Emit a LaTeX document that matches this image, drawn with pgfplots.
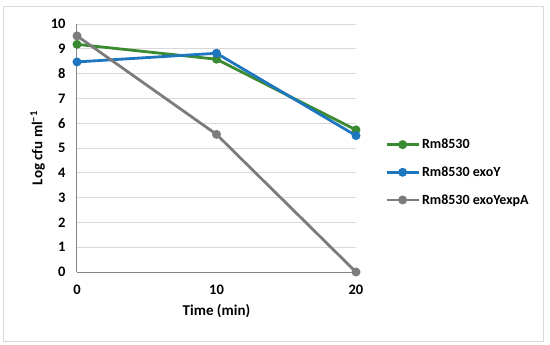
\documentclass[border=0pt]{standalone}
\usepackage{fontspec}
\setmainfont{Carlito}
\usepackage{pgfplots}
\pgfplotsset{compat=1.18}
\definecolor{cgreen}{RGB}{58,138,50}
\definecolor{cblue}{RGB}{30,118,190}
\definecolor{cgrey}{RGB}{124,124,124}
\definecolor{cgrid}{RGB}{217,217,217}
\definecolor{caxis}{RGB}{134,134,134}
\begin{document}
\begin{tikzpicture}
\path (0pt,0pt) rectangle (550pt,-345pt);
\draw[cgrid, line width=0.8pt] (3pt,-6pt) rectangle (543pt,-341pt);
\begin{axis}[
  at={(77pt,-272pt)}, anchor=south west,
  scale only axis, width=279pt, height=248pt,
  xmin=0, xmax=20, ymin=0, ymax=10,
  xtick={0,10,20}, minor xtick={5,15},
  ytick={0,1,...,10},
  axis y line*=left, axis x line*=bottom,
  axis line style={caxis, line width=1pt, -},
  ymajorgrids, grid style={cgrid, line width=0.8pt},
  x tick style={draw=none}, y tick style={draw=none},
  minor x tick style={caxis, line width=1pt},
  minor tick length=4pt, tickpos=left,
  xtick align=outside,
  font=\fontsize{15}{17}\selectfont\bfseries,
  tick label style={font=\fontsize{14.5}{16}\selectfont\bfseries},
  /pgf/number format/assume math mode=true,
  xticklabel style={yshift=-5pt},
  yticklabel style={xshift=-8pt},
  xlabel={Time (min)}, ylabel={Log cfu ml\textsuperscript{−1}},
  xlabel style={yshift=-3pt},
  ylabel style={yshift=-1pt},
  clip=false,
  legend cell align=left,
  legend style={at={(1.104,0.545)}, anchor=north west, draw=none, fill=none,
    font=\fontsize{14}{16}\selectfont\bfseries, row sep=12.5pt, inner sep=0pt,
    /tikz/every even column/.append style={column sep=1pt}},
  legend image code/.code={\draw[mark repeat=2,mark phase=2,#1] plot coordinates {(0pt,0pt) (16pt,0pt) (32pt,0pt)};},
  every axis plot/.append style={line width=2.8pt, mark=*, mark size=3pt, mark options={line width=0pt}},
]
\addplot[cgreen, mark options={fill=cgreen, draw=cgreen}] coordinates {(0,9.18) (10,8.58) (20,5.73)};
\addlegendentry{Rm8530}
\addplot[cblue, mark options={fill=cblue, draw=cblue}] coordinates {(0,8.47) (10,8.82) (20,5.50)};
\addlegendentry{Rm8530 exoY}
\addplot[cgrey, mark options={fill=cgrey, draw=cgrey}] coordinates {(0,9.52) (10,5.55) (20,0)};
\addlegendentry{Rm8530 exoYexpA}
\end{axis}
\end{tikzpicture}
\end{document}
